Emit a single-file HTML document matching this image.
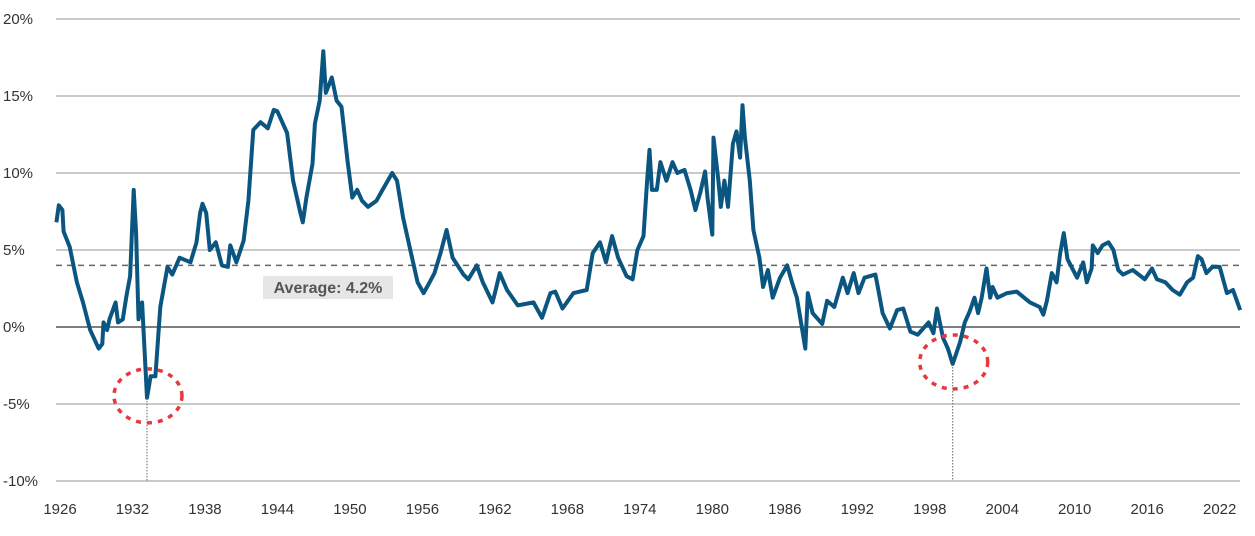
<!DOCTYPE html>
<html><head><meta charset="utf-8"><style>
body{margin:0;background:#fff;}
svg text{font-family:"Liberation Sans",sans-serif;}
</style></head><body>
<svg id="chart" width="1255" height="531" xmlns="http://www.w3.org/2000/svg">
<g id="grid"></g><g id="labels"></g><g id="series"></g><g id="annot"></g>
</svg>
<script>
const yTicks=[20,15,10,5,0,-5,-10];
const xTickYears=[1926,1932,1938,1944,1950,1956,1962,1968,1974,1980,1986,1992,1998,2004,2010,2016,2022];
const average=4.0;
const averageLabel="Average: 4.2%";
const lows=[[1933.2,-4.6],[1999.9,-2.4]];
const years=[1925.7,1925.9,1926.2,1926.3,1926.8,1927.4,1927.9,1928.5,1929.2,1929.5,1929.6,1929.9,1930.1,1930.6,1930.8,1931.2,1931.5,1931.8,1932.1,1932.3,1932.5,1932.8,1933.2,1933.5,1933.9,1934.3,1934.9,1935.3,1935.9,1936.8,1937.3,1937.6,1937.8,1938.1,1938.4,1938.9,1939.4,1939.9,1940.1,1940.6,1941.2,1941.6,1942.0,1942.6,1943.2,1943.7,1944.0,1944.8,1945.3,1945.9,1946.1,1946.4,1946.9,1947.1,1947.5,1947.8,1948.0,1948.5,1948.9,1949.3,1949.8,1950.2,1950.6,1951.0,1951.5,1952.2,1952.7,1953.5,1953.9,1954.4,1955.0,1955.6,1956.1,1956.6,1957.0,1957.5,1958.0,1958.5,1959.4,1959.8,1960.5,1961.0,1961.8,1962.0,1962.4,1963.0,1963.9,1965.2,1965.9,1966.6,1967.0,1967.6,1968.5,1969.6,1970.1,1970.7,1971.2,1971.7,1972.2,1972.9,1973.4,1973.8,1974.3,1974.6,1974.8,1975.0,1975.4,1975.7,1976.2,1976.7,1977.1,1977.7,1978.2,1978.6,1979.0,1979.4,1979.6,1980.0,1980.1,1980.5,1980.7,1981.0,1981.3,1981.7,1982.0,1982.3,1982.5,1982.7,1983.1,1983.4,1983.9,1984.2,1984.6,1985.0,1985.6,1986.2,1986.6,1987.0,1987.3,1987.7,1987.9,1988.3,1989.1,1989.5,1990.1,1990.8,1991.2,1991.7,1992.1,1992.6,1993.5,1993.7,1994.1,1994.7,1995.3,1995.8,1996.4,1997.0,1997.9,1998.3,1998.6,1999.1,1999.5,1999.9,2000.5,2000.9,2001.3,2001.7,2002.0,2002.3,2002.7,2003.0,2003.2,2003.6,2004.4,2005.2,2006.3,2007.1,2007.4,2007.7,2008.1,2008.5,2008.8,2009.1,2009.4,2010.2,2010.7,2011.0,2011.4,2011.5,2011.9,2012.3,2012.8,2013.2,2013.6,2014.0,2014.8,2015.8,2016.4,2016.8,2017.5,2018.1,2018.7,2019.3,2019.8,2020.2,2020.5,2020.9,2021.4,2022.0,2022.6,2023.1,2023.7];
const values=[6.8,7.9,7.6,6.2,5.2,2.9,1.6,-0.2,-1.4,-1.1,0.3,-0.2,0.5,1.6,0.3,0.5,2.0,3.3,8.9,6.1,0.5,1.6,-4.6,-3.2,-3.2,1.3,3.9,3.4,4.5,4.2,5.5,7.4,8.0,7.4,5.0,5.5,4.0,3.9,5.3,4.2,5.6,8.2,12.8,13.3,12.9,14.1,14.0,12.6,9.5,7.4,6.8,8.4,10.6,13.2,14.7,17.9,15.2,16.2,14.7,14.3,10.8,8.4,8.9,8.2,7.8,8.2,8.9,10.0,9.5,7.1,5.0,2.9,2.2,2.9,3.5,4.8,6.3,4.5,3.4,3.1,4.0,2.9,1.6,2.2,3.5,2.4,1.4,1.6,0.6,2.2,2.3,1.2,2.2,2.4,4.8,5.5,4.2,5.9,4.5,3.3,3.1,5.0,5.9,9.5,11.5,8.9,8.9,10.7,9.5,10.7,10.0,10.2,8.9,7.6,8.7,10.1,8.4,6.0,12.3,9.5,7.8,9.5,7.8,11.9,12.7,11.0,14.4,12.3,9.5,6.3,4.5,2.6,3.7,1.9,3.2,4.0,2.9,1.9,0.5,-1.4,2.2,0.9,0.2,1.7,1.3,3.2,2.2,3.5,2.2,3.2,3.4,2.6,0.9,-0.1,1.1,1.2,-0.3,-0.5,0.3,-0.4,1.2,-0.7,-1.4,-2.4,-1.0,0.3,1.0,1.9,0.9,1.9,3.8,1.9,2.6,1.9,2.2,2.3,1.6,1.3,0.8,1.7,3.5,2.9,4.8,6.1,4.4,3.2,4.2,2.9,3.8,5.3,4.8,5.3,5.5,5.0,3.7,3.4,3.7,3.1,3.8,3.1,2.9,2.4,2.1,2.9,3.2,4.6,4.4,3.5,3.9,3.9,2.2,2.4,1.1];

const NS="http://www.w3.org/2000/svg";
const X0=56,X1=1240;
function xs(yr){return 60+(yr-1926)*12.08;}
function ys(v){return 327-v*15.4;}
function mk(tag,attrs,parent){const e=document.createElementNS(NS,tag);for(const k in attrs)e.setAttribute(k,attrs[k]);parent.appendChild(e);return e;}
const grid=document.getElementById('grid'),labels=document.getElementById('labels'),series=document.getElementById('series'),annot=document.getElementById('annot');

yTicks.forEach(t=>{
  const l=mk('line',{x1:X0,x2:X1,y1:ys(t),y2:ys(t),stroke:t===0?'#555':'#aaa','stroke-width':t===0?1.6:1.2},grid);
  
  
  const tx=mk('text',{x:3,y:ys(t)+5,'font-size':15,fill:'#333'},labels);
  tx.textContent=t+'%';
  
  
});
xTickYears.forEach(y=>{
  const tx=mk('text',{x:xs(y),y:514,'font-size':15,fill:'#333','text-anchor':'middle'},labels);
  tx.textContent=y;
  
  
});
const av=mk('line',{x1:X0,x2:X1,y1:ys(average),y2:ys(average),stroke:'#666','stroke-width':1.5,'stroke-dasharray':'6,5'},grid);


const ab=mk('rect',{x:263,y:276,width:130,height:23,fill:'#e6e6e6'},annot);


const at=mk('text',{x:328,y:293,'font-size':16,'font-weight':'bold',fill:'#555','text-anchor':'middle'},annot);
at.textContent=averageLabel;



lows.forEach(p=>{
  const vl=mk('line',{x1:xs(p[0]),x2:xs(p[0]),y1:ys(p[1]),y2:ys(-10),stroke:'#666','stroke-width':1,'stroke-dasharray':'1.5,1.5'},annot);
  
  
});

let d='';
years.forEach((y,i)=>{d+=(i?'L':'M')+xs(y).toFixed(1)+','+ys(values[i]).toFixed(1);});
const path=mk('path',{d:d,fill:'none',stroke:'#0b5680','stroke-width':4,'stroke-linejoin':'round'},series);



lows.forEach(p=>{
  const c=mk('ellipse',{cx:xs(p[0])+1,cy:ys(p[1])-2,rx:34,ry:27,fill:'none',stroke:'#e8383d','stroke-width':3.5,'stroke-dasharray':'5,6'},annot);
  
  
});
</script>
</body></html>
